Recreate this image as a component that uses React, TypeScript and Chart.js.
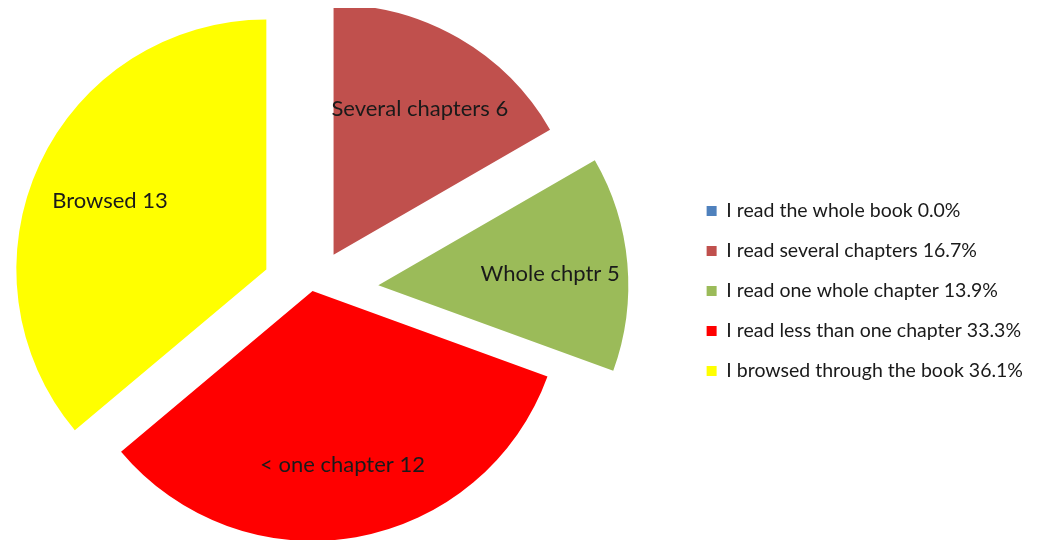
import React, { useEffect, useRef } from "react";
import { Chart, registerables } from "chart.js";

Chart.register(...registerables);

const categories = [
  "I read the whole book",
  "I read several chapters",
  "I read one whole chapter",
  "I read less than one chapter",
  "I browsed through the book",
];
const sliceLabels = ["Whole book", "Several chapters", "Whole chptr", "< one chapter", "Browsed"];
const values = [0, 6, 5, 12, 13];
const colors = ["#4F81BD", "#C0504D", "#9BBB59", "#FF0000", "#FFFF00"];
const explode = [0, 42, 66, 0, 51];

const FONT = "Lato, 'Noto Sans', sans-serif";
const TEXT = "#1a1a1a";

// draws each arc moved outward along its bisector by its explode distance
const explodePlugin = {
  id: "explodeArcs",
  beforeDatasetDraw(chart: any, args: any) {
    const ctx = chart.ctx;
    args.meta.data.forEach((arc: any, i: number) => {
      if (!values[i]) return;
      const t = explode[i] || 0;
      const mid = (arc.startAngle + arc.endAngle) / 2;
      ctx.save();
      ctx.translate(Math.cos(mid) * t, Math.sin(mid) * t);
      arc.draw(ctx);
      ctx.restore();
    });
    return false;
  },
};

const sliceLabelPlugin = {
  id: "sliceLabels",
  afterDatasetsDraw(chart: any) {
    const ctx = chart.ctx;
    const meta = chart.getDatasetMeta(0);
    ctx.save();
    ctx.font = `22px ${FONT}`;
    ctx.fillStyle = TEXT;
    ctx.textAlign = "center";
    ctx.textBaseline = "middle";
    meta.data.forEach((arc: any, i: number) => {
      const v = values[i];
      if (!v) return;
      const { x, y, startAngle, endAngle, outerRadius } = arc.getProps(
        ["x", "y", "startAngle", "endAngle", "outerRadius"],
        true
      );
      const mid = (startAngle + endAngle) / 2;
      const d = (explode[i] || 0) + outerRadius * 0.69;
      ctx.fillText(`${sliceLabels[i]} ${v}`, x + Math.cos(mid) * d, y + Math.sin(mid) * d + 4);
    });
    ctx.restore();
  },
};

export default function App() {
  const ref = useRef<HTMLCanvasElement | null>(null);
  useEffect(() => {
    if (!ref.current) return;
    const total = values.reduce((a, b) => a + b, 0);
    const chart = new Chart(ref.current, {
      type: "pie",
      data: {
        labels: categories,
        datasets: [
          {
            data: values,
            backgroundColor: colors,
            borderWidth: 0,
            clip: false as any,
          },
        ],
      },
      options: {
        animation: false,
        responsive: true,
        maintainAspectRatio: false,
        radius: 250,
        layout: { padding: { top: 34, bottom: 0, left: 0, right: 0 } },
        plugins: {
          tooltip: { enabled: false },
          legend: {
            position: "right",
            align: "center",
            labels: {
              boxWidth: 10,
              boxHeight: 10,
              padding: 20.5,
              color: TEXT,
              font: { family: FONT, size: 19.5 },
              generateLabels: () =>
                categories.map((c, i) => ({
                  text: `${c} ${((values[i] / total) * 100).toFixed(1)}%`,
                  fillStyle: colors[i],
                  strokeStyle: colors[i],
                  lineWidth: 0,
                  hidden: false,
                  index: i,
                  fontColor: TEXT,
                })),
            },
          },
        },
      } as any,
      plugins: [explodePlugin, sliceLabelPlugin],
    });
    return () => chart.destroy();
  }, []);
  return (
    <div style={{ position: "relative", marginLeft: "-69px", width: "1094px", height: "532px" }}>
      <canvas ref={ref} />
    </div>
  );
}
